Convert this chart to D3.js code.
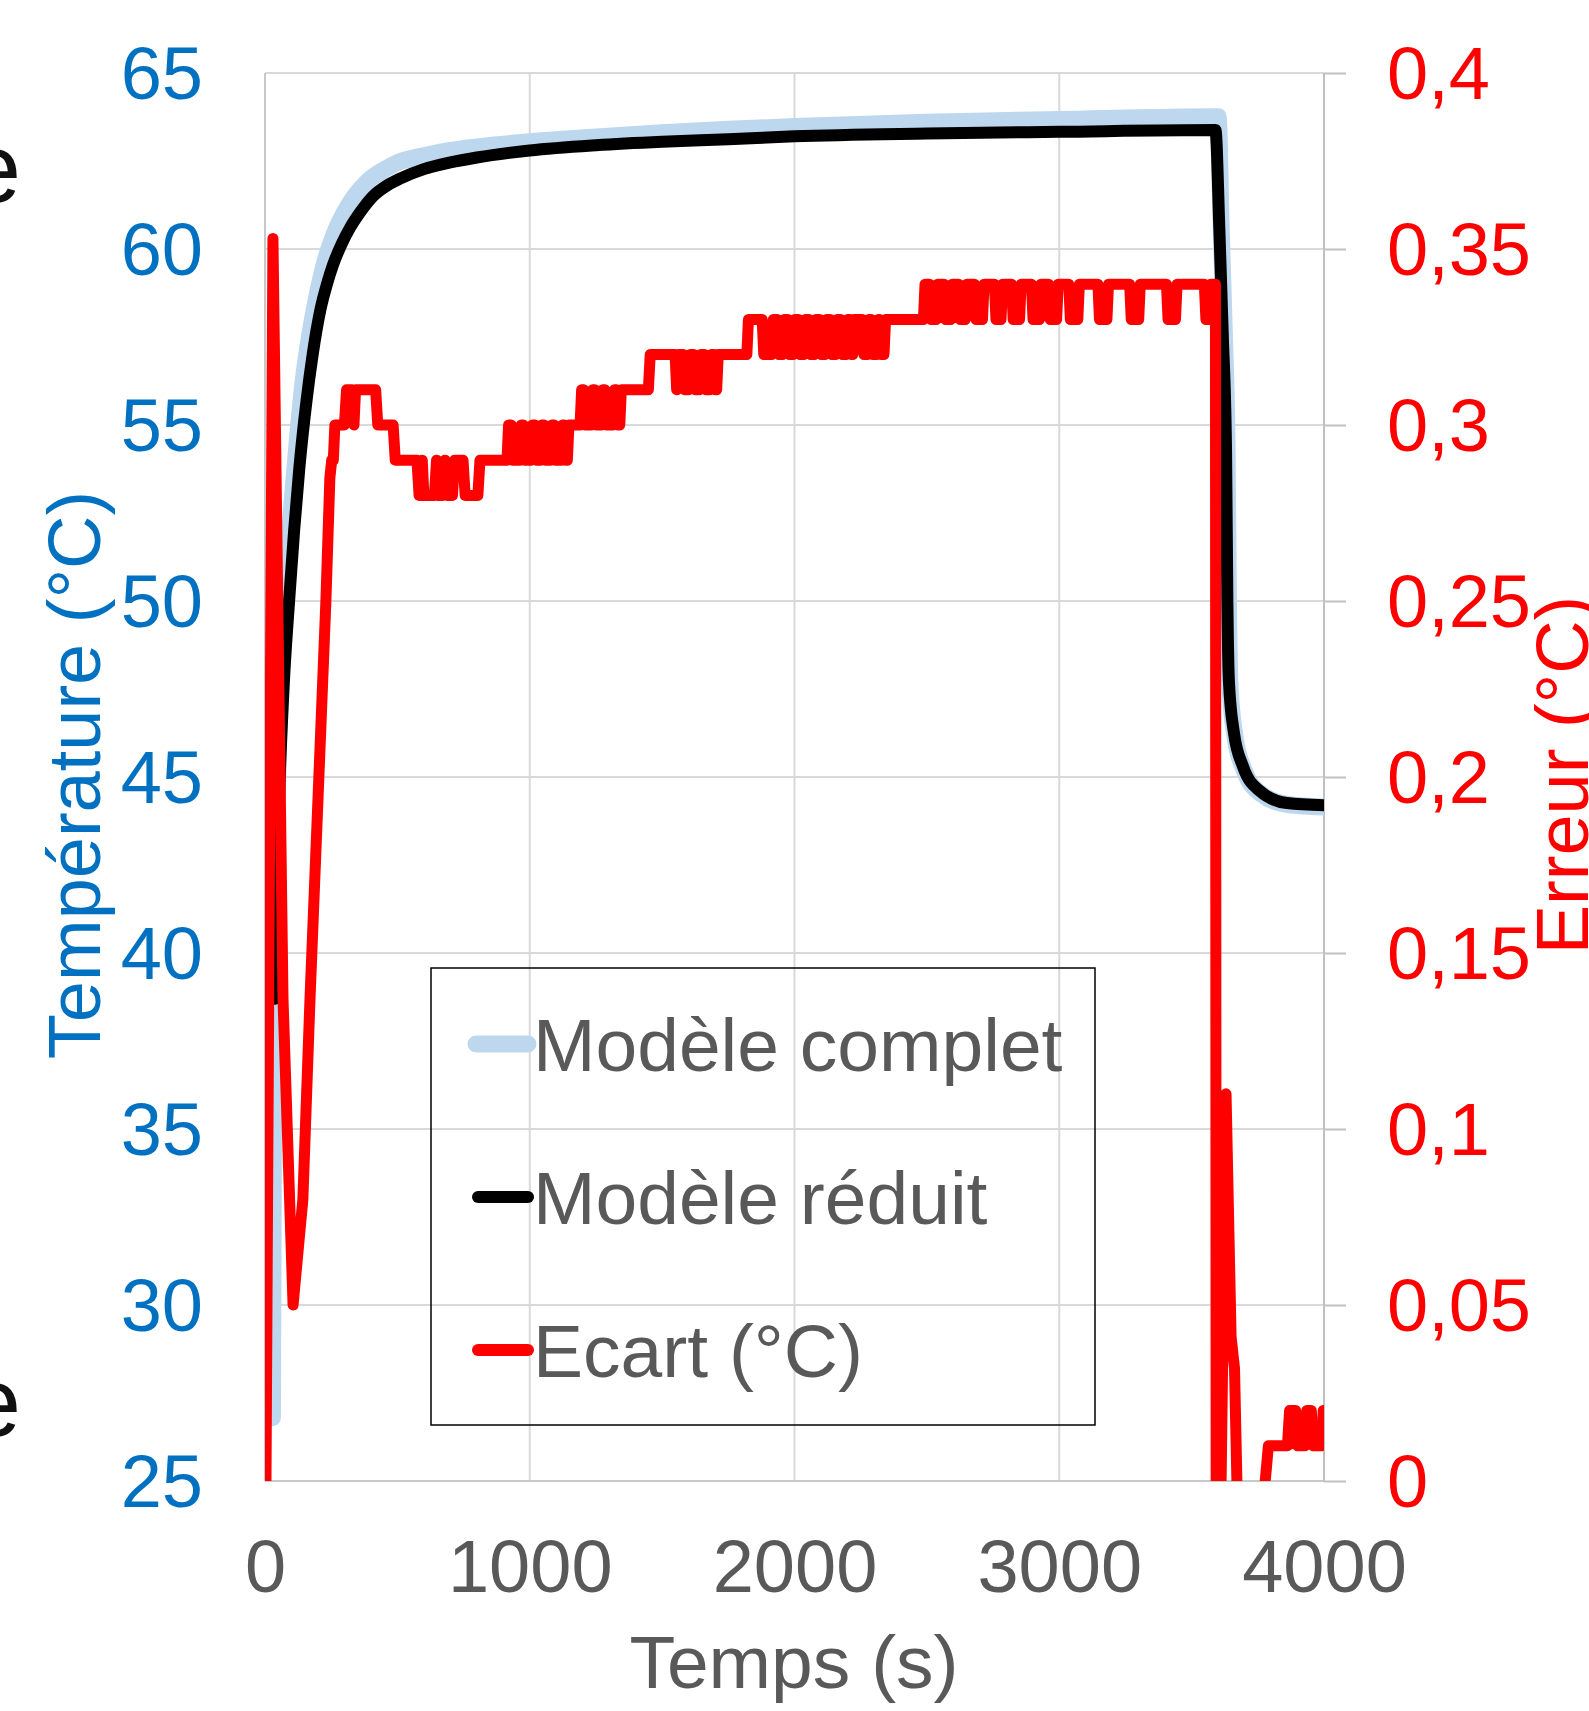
<!DOCTYPE html>
<html>
<head>
<meta charset="utf-8">
<script src="https://cdn.jsdelivr.net/npm/d3@7"></script>
<style>
  html, body { margin: 0; padding: 0; background: #fff; }
  svg { display: block; font-family: "Liberation Sans", Arial, sans-serif; }
</style>
</head>
<body>
<svg id="chart"></svg>
<script>
// tick values / labels
var timeTicks = [0, 1000, 2000, 3000, 4000];
var tempTicks = [25, 30, 35, 40, 45, 50, 55, 60, 65];
var errTicks = [0, 0.05, 0.1, 0.15, 0.2, 0.25, 0.3, 0.35, 0.4];
var errLabels = ['0', '0,05', '0,1', '0,15', '0,2', '0,25', '0,3', '0,35', '0,4'];

var seriesNames = ['Modèle complet', 'Modèle réduit', 'Ecart (°C)'];

// Modèle complet (s, °C)
var tComplet = [28, 34, 45, 60, 80, 100, 120, 145, 170, 200, 225, 250, 280, 320, 360, 400, 450, 500, 600, 700, 800, 1000, 1250, 1500, 1750, 2000, 2500, 3000, 3600,
  3612, 3624, 3634, 3639, 3645, 3664, 3698, 3762, 3862, 4000];
var TComplet = [26.8, 39.0, 44.0, 48.0, 50.6, 52.6, 54.4, 56.3, 57.6, 58.8, 59.6, 60.2, 60.75, 61.3, 61.7, 62.0, 62.25, 62.45, 62.65, 62.8, 62.9, 63.05, 63.18, 63.3, 63.4, 63.48, 63.6, 63.68, 63.76,
  60.5, 57.5, 54.3, 50.0, 47.6, 46.15, 45.2, 44.52, 44.22, 44.15];

// Modèle réduit (s, °C)
var tReduit = [38, 50, 70, 91, 110, 130, 157, 180, 210, 234, 257, 290, 321, 360, 408, 460, 510, 600, 700, 800, 1000, 1250, 1500, 1750, 2000, 2500, 3000, 3590,
  3605, 3618, 3630, 3635, 3641, 3660, 3694, 3758, 3860, 4000];
var TReduit = [38.7, 43.5, 47.5, 50.0, 52.0, 53.8, 55.7, 57.0, 58.3, 59.0, 59.55, 60.15, 60.6, 61.05, 61.5, 61.8, 62.0, 62.27, 62.46, 62.6, 62.8, 62.95, 63.05, 63.12, 63.2, 63.28, 63.33, 63.38,
  60.5, 57.5, 54.3, 50.0, 47.7, 46.25, 45.3, 44.6, 44.26, 44.2];

// Ecart (s, °C) - right axis
var ecart = [
  [0, -0.05], [30, 0.353], [68, 0.137], [106, 0.05], [143, 0.08], [170, 0.137], [230, 0.25], [245, 0.285],
  [252, 0.29], [258, 0.29], [264, 0.30], [300, 0.30], [308, 0.31], [330, 0.31], [336, 0.30], [342, 0.31],
  [418, 0.31], [426, 0.30], [484, 0.30], [492, 0.29], [574, 0.29],
  [582, 0.28], [588, 0.28], [594, 0.29], [600, 0.28], [640, 0.28], [648, 0.29], [654, 0.28], [672, 0.28],
  [680, 0.29], [688, 0.28], [708, 0.28], [716, 0.29], [748, 0.29], [756, 0.28], [804, 0.28], [812, 0.29],
  [914, 0.29], [920, 0.30], [930, 0.30], [936, 0.29], [962, 0.29], [968, 0.30], [976, 0.30], [982, 0.29],
  [1004, 0.29], [1010, 0.30], [1020, 0.30], [1026, 0.29], [1040, 0.29], [1046, 0.30], [1054, 0.30], [1060, 0.29],
  [1078, 0.29], [1084, 0.30], [1092, 0.30], [1098, 0.29], [1118, 0.29], [1124, 0.30], [1130, 0.30], [1136, 0.29],
  [1142, 0.29], [1148, 0.30],
  [1190, 0.30], [1196, 0.31], [1204, 0.31], [1210, 0.30], [1232, 0.30], [1238, 0.31], [1246, 0.31], [1252, 0.30],
  [1270, 0.30], [1276, 0.31], [1284, 0.31], [1290, 0.30], [1314, 0.30], [1320, 0.31], [1328, 0.31], [1334, 0.30],
  [1340, 0.30], [1346, 0.31],
  [1448, 0.31], [1455, 0.32], [1549, 0.32], [1555, 0.31], [1561, 0.32],
  [1580, 0.32], [1586, 0.31], [1600, 0.31], [1606, 0.32], [1620, 0.32], [1626, 0.31], [1640, 0.31], [1646, 0.32],
  [1660, 0.32], [1666, 0.31], [1680, 0.31], [1686, 0.32], [1696, 0.32], [1702, 0.31], [1706, 0.31], [1712, 0.32],
  [1820, 0.32], [1826, 0.33], [1878, 0.33], [1884, 0.32], [1914, 0.32],
  [1920, 0.33], [1935, 0.33], [1941, 0.32], [1955, 0.32], [1961, 0.33], [1975, 0.33], [1981, 0.32], [1995, 0.32],
  [2001, 0.33], [2015, 0.33], [2021, 0.32], [2035, 0.32], [2041, 0.33], [2055, 0.33], [2061, 0.32], [2075, 0.32],
  [2081, 0.33], [2095, 0.33], [2101, 0.32], [2115, 0.32], [2121, 0.33], [2135, 0.33], [2141, 0.32], [2155, 0.32],
  [2161, 0.33], [2175, 0.33], [2181, 0.32], [2195, 0.32], [2201, 0.33], [2210, 0.33], [2216, 0.32], [2220, 0.32],
  [2226, 0.33], [2256, 0.33], [2262, 0.32], [2275, 0.32], [2281, 0.33], [2290, 0.33], [2296, 0.32], [2310, 0.32],
  [2316, 0.33], [2322, 0.33], [2328, 0.32], [2338, 0.32], [2344, 0.33],
  [2487, 0.33], [2493, 0.34], [2510, 0.34], [2516, 0.33], [2535, 0.33], [2541, 0.34], [2565, 0.34], [2571, 0.33],
  [2590, 0.33], [2596, 0.34], [2620, 0.34], [2626, 0.33], [2645, 0.33], [2651, 0.34], [2680, 0.34], [2686, 0.33],
  [2710, 0.33], [2716, 0.34], [2755, 0.34], [2761, 0.33], [2780, 0.33], [2786, 0.34], [2820, 0.34], [2826, 0.33],
  [2850, 0.33], [2856, 0.34], [2895, 0.34], [2901, 0.33], [2925, 0.33], [2931, 0.34], [2960, 0.34], [2966, 0.33],
  [2990, 0.33], [2996, 0.34],
  [3036, 0.34], [3042, 0.33], [3070, 0.33], [3076, 0.34],
  [3146, 0.34], [3152, 0.33], [3180, 0.33], [3186, 0.34],
  [3266, 0.34], [3272, 0.33], [3300, 0.33], [3306, 0.34],
  [3405, 0.34], [3411, 0.33], [3439, 0.33], [3445, 0.34],
  [3548, 0.34], [3554, 0.33], [3566, 0.33], [3572, 0.34],
  [3590, 0.34], [3593, -0.05], [3603, -0.05], [3630, 0.11], [3649, 0.041], [3662, 0.032], [3671, 0.0], [3680, -0.03],
  [3765, -0.03], [3778, 0.0], [3790, 0.01], [3862, 0.01], [3870, 0.02], [3893, 0.02], [3900, 0.01], [3928, 0.01],
  [3935, 0.02], [3952, 0.02], [3959, 0.01], [3990, 0.01], [3997, 0.02], [4000, 0.02]
];

var WIDTH = 1589
var HEIGHT = 1711
var FONT = 74

var svg = d3.select('#chart')
  .attr('width', WIDTH)
  .attr('height', HEIGHT)

// plot box
var pLeft = 265, pRight = 1324, pTop = 73, pBottom = 1481

var x = d3.scaleLinear().domain([0, 4000]).range([pLeft, pRight])
var yTemp = d3.scaleLinear().domain([25, 65]).range([pBottom, pTop])
var yErr = d3.scaleLinear().domain([0, 0.4]).range([pBottom, pTop])

// stray letters from the neighbouring figure, cut by the frame
svg.append('text').attr('x', 21).attr('y', 202).attr('text-anchor', 'end')
  .attr('font-size', 98).attr('fill', '#111').text('e')
svg.append('text').attr('x', 21).attr('y', 1436).attr('text-anchor', 'end')
  .attr('font-size', 98).attr('fill', '#111').text('e')

// grid
svg.append('g').selectAll('line').data(tempTicks.slice(1)).enter().append('line')
  .attr('x1', pLeft).attr('x2', pRight)
  .attr('y1', function(d) { return yTemp(d) }).attr('y2', function(d) { return yTemp(d) })
  .attr('stroke', '#d9d9d9').attr('stroke-width', 2)

svg.append('g').selectAll('line').data(timeTicks.slice(1, -1)).enter().append('line')
  .attr('x1', function(d) { return x(d) }).attr('x2', function(d) { return x(d) })
  .attr('y1', pTop).attr('y2', pBottom)
  .attr('stroke', '#d9d9d9').attr('stroke-width', 2)

// frame lines
svg.append('line').attr('x1', pLeft).attr('x2', pLeft).attr('y1', pTop).attr('y2', pBottom)
  .attr('stroke', '#c8c8c8').attr('stroke-width', 2)
svg.append('line').attr('x1', pLeft).attr('x2', pRight).attr('y1', pBottom).attr('y2', pBottom)
  .attr('stroke', '#c8c8c8').attr('stroke-width', 2)
svg.append('line').attr('x1', pRight).attr('x2', pRight).attr('y1', pTop).attr('y2', pBottom)
  .attr('stroke', '#c0c0c0').attr('stroke-width', 2)

// axes
var axL = svg.append('g').attr('transform', 'translate(' + pLeft + ',0)')
  .call(d3.axisLeft(yTemp).tickValues(tempTicks).tickSize(0).tickPadding(62))
axL.select('.domain').remove()
axL.selectAll('text').attr('font-size', FONT).attr('fill', '#0070c0').attr('dy', '0.35em')

var axR = svg.append('g').attr('transform', 'translate(' + pRight + ',0)')
  .call(d3.axisRight(yErr).tickValues(errTicks).tickSize(22).tickPadding(41)
    .tickFormat(function(d, i) { return errLabels[i] }))
axR.select('.domain').remove()
axR.selectAll('line').attr('stroke', '#c0c0c0').attr('stroke-width', 2)
axR.selectAll('text').attr('font-size', FONT).attr('fill', '#ff0000').attr('dy', '0.35em')

var axB = svg.append('g').attr('transform', 'translate(0,' + pBottom + ')')
  .call(d3.axisBottom(x).tickValues(timeTicks).tickSize(0).tickPadding(58).tickFormat(d3.format('d')))
axB.select('.domain').remove()
axB.selectAll('text').attr('font-size', FONT).attr('fill', '#595959')

// titles
svg.append('text').attr('transform', 'translate(100,775) rotate(-90)')
  .attr('text-anchor', 'middle').attr('font-size', FONT).attr('fill', '#0070c0')
  .text('Température (°C)')
svg.append('text').attr('transform', 'translate(1588,775) rotate(-90)')
  .attr('text-anchor', 'middle').attr('font-size', FONT).attr('fill', '#ff0000')
  .text('Erreur (°C)')
svg.append('text').attr('x', 794).attr('y', 1688)
  .attr('text-anchor', 'middle').attr('font-size', 75).attr('fill', '#595959')
  .text('Temps (s)')

// series
svg.append('clipPath').attr('id', 'plot')
  .append('rect').attr('x', pLeft).attr('y', pTop).attr('width', pRight - pLeft).attr('height', pBottom - pTop)

var g = svg.append('g').attr('clip-path', 'url(#plot)')

var tempLine = d3.line()
  .x(function(d) { return x(d[0]) })
  .y(function(d) { return yTemp(d[1]) })
  .curve(d3.curveMonotoneX)

var errLine = d3.line()
  .x(function(d) { return x(d[0]) })
  .y(function(d) { return yErr(d[1]) })

g.append('path')
  .datum(d3.zip(tComplet, TComplet))
  .attr('d', tempLine)
  .attr('fill', 'none').attr('stroke', '#bdd7ee').attr('stroke-width', 17)
  .attr('stroke-linejoin', 'round').attr('stroke-linecap', 'round')

g.append('path')
  .datum(d3.zip(tReduit, TReduit))
  .attr('d', tempLine)
  .attr('fill', 'none').attr('stroke', '#000').attr('stroke-width', 12)
  .attr('stroke-linejoin', 'round').attr('stroke-linecap', 'round')

g.append('path')
  .datum(ecart)
  .attr('d', errLine)
  .attr('fill', 'none').attr('stroke', '#ff0000').attr('stroke-width', 11)
  .attr('stroke-linejoin', 'round').attr('stroke-linecap', 'round')

// legend
var legendColors = ['#bdd7ee', '#000', '#ff0000']
var legendWidths = [17, 12, 12]

svg.append('rect').attr('x', 431).attr('y', 968).attr('width', 664).attr('height', 457)
  .attr('fill', 'none').attr('stroke', '#000').attr('stroke-width', 1.5)

var items = svg.append('g').selectAll('g').data(seriesNames).enter().append('g')
  .attr('transform', function(d, i) { return 'translate(0,' + (1044 + i * 153) + ')' })

items.append('line')
  .attr('x1', function(d, i) { return i === 0 ? 476 : 478 }).attr('x2', 528)
  .attr('stroke', function(d, i) { return legendColors[i] })
  .attr('stroke-width', function(d, i) { return legendWidths[i] })
  .attr('stroke-linecap', 'round')

items.append('text')
  .attr('x', 533).attr('dy', '0.36em')
  .attr('font-size', 75).attr('fill', '#595959')
  .text(function(d) { return d })
</script>
</body>
</html>
